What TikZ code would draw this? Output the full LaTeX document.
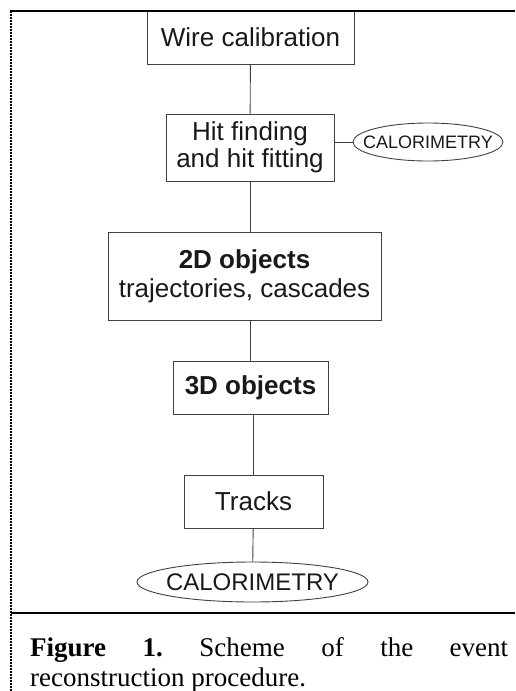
\documentclass[tikz,border=0pt]{standalone}
\usepackage{fontspec}
\setmainfont{Liberation Serif}
\setsansfont{Liberation Sans}
\usetikzlibrary{shapes.geometric,calc}
\tikzset{frameline/.style={draw=black, line width=2pt}}
\frenchspacing

\begin{document}
\begin{tikzpicture}[x=1pt,y=-1pt]
\tikzstyle{stage} = [rectangle, draw=black!75, line width=0.9pt, inner sep=0pt, align=center, text=black!90, font=\sffamily\fontsize{26}{27}\selectfont]
\tikzstyle{calo} = [ellipse, draw=black!75, line width=0.9pt, inner sep=0pt, text=black!90]
\tikzstyle{link} = [draw=black!75, line width=0.9pt]

\useasboundingbox (0,0) rectangle (515,691);

% flow of the reconstruction
\node (wire) [stage, minimum width=207pt, minimum height=53pt] at (250.5,37.5) {Wire calibration};
\node (hit) [stage, minimum width=168pt, minimum height=67pt] at (250,147.5) {Hit finding\\and hit fitting};
\node (calo1) [calo, minimum width=150pt, minimum height=38pt, font=\sffamily\fontsize{18}{20}\selectfont] at (428,142) {\makebox[0pt]{CALORIMETRY}};
\node (obj2d) [stage, minimum width=273pt, minimum height=88pt, font=\sffamily\fontsize{26}{29}\selectfont] at (244.5,276) {\textbf{2D objects}\\trajectories, cascades};
\node (obj3d) [stage, minimum width=155pt, minimum height=53pt] at (250.5,387.5) {\textbf{3D objects}};
\node (tracks) [stage, minimum width=139pt, minimum height=53pt] at (253.5,501.5) {Tracks};
\node (calo2) [calo, minimum width=231pt, minimum height=40pt, font=\sffamily\fontsize{24}{26}\selectfont] at (252.5,582) {\makebox[0pt]{CALORIMETRY}};

\draw [link] (wire) -- (hit);
\draw [link] (calo1.west -| hit.east) -- (calo1.west);
\draw [link] (hit.south) -- (hit.south |- obj2d.north);
\draw [link] (obj3d.north |- obj2d.south) -- (obj3d.north);
\draw [link] (tracks.north |- obj3d.south) -- (tracks.north);
\draw [link] (tracks) -- (calo2);

% frame and caption
\coordinate (topleft) at (10,11);
\coordinate (topright) at (515,11);
\coordinate (bottomleft) at (11,691);
\coordinate (sepleft) at (11,613);
\coordinate (sepright) at (515,613);
\draw [frameline] (topleft) -- (topright);
\draw [draw=black, line width=1.3pt, dash pattern=on 2pt off 1pt] (topleft -| bottomleft) -- (bottomleft);
\draw [frameline] (sepleft) -- (sepright);
\node (caption) [anchor=base west, inner sep=0pt, text width=478pt, align=justify, font=\fontsize{27}{30}\selectfont] at (30,656) {\textbf{Figure 1.} Scheme of the event\linebreak reconstruction procedure.};

\end{tikzpicture}
\end{document}
